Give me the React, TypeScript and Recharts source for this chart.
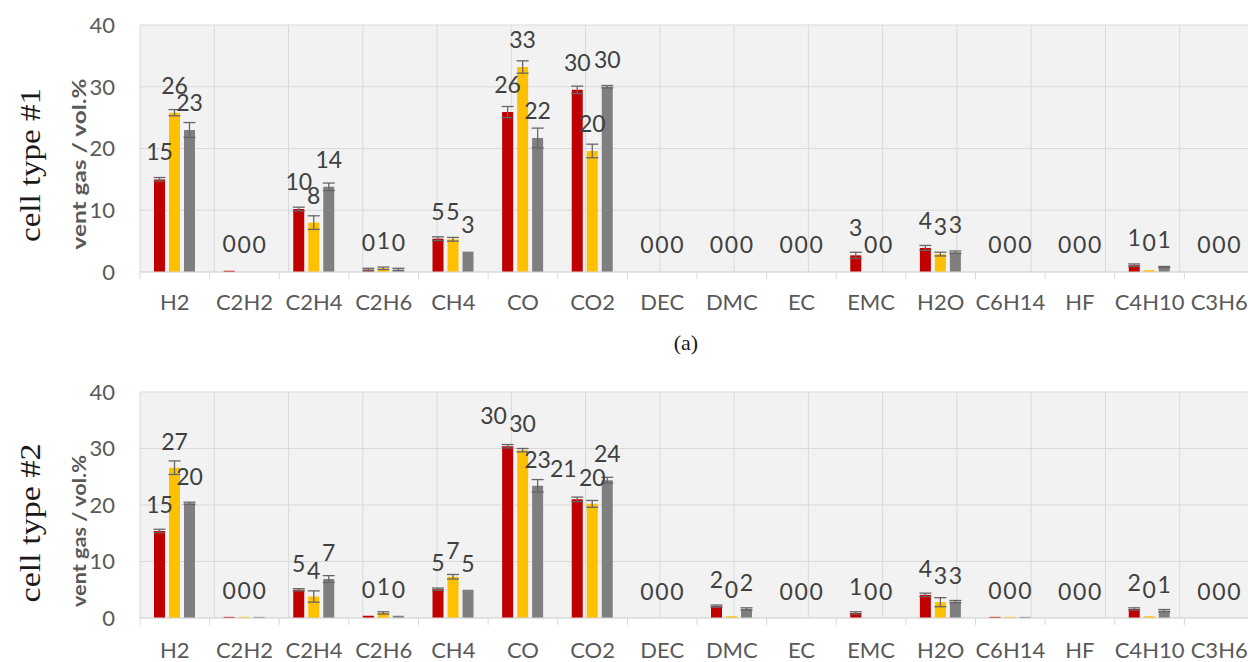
import React from 'react';
import { BarChart, Bar, XAxis, YAxis, CartesianGrid, ErrorBar, LabelList } from 'recharts';

const categories = ['H2', 'C2H2', 'C2H4', 'C2H6', 'CH4', 'CO', 'CO2', 'DEC', 'DMC', 'EC', 'EMC', 'H2O', 'C6H14', 'HF', 'C4H10', 'C3H6'];
const yTicks = [0, 10, 20, 30, 40];
const boundaryTicks = [0, 1, 2, 3, 4, 5, 6, 7, 8, 9, 10, 11, 12, 13, 14, 15, 16];

// cell type #1
const cell1Red = [15.0, 0.2, 10.2, 0.4, 5.4, 25.9, 29.5, 0, 0, 0, 2.7, 3.9, 0, 0, 1.1, 0];
const cell1RedErr = [0.3, 0, 0.3, 0.2, 0.3, 0.9, 0.6, 0, 0, 0, 0.5, 0.4, 0, 0, 0.2, 0];
const cell1Yellow = [25.8, 0, 8.0, 0.6, 5.3, 33.2, 19.6, 0, 0, 0, 0, 2.9, 0, 0, 0.3, 0];
const cell1YellowErr = [0.5, 0, 1.1, 0.2, 0.3, 1.0, 1.1, 0, 0, 0, 0, 0.3, 0, 0, 0, 0];
const cell1Grey = [23.0, 0, 13.8, 0.4, 3.3, 21.7, 30.0, 0, 0, 0, 0, 3.2, 0, 0, 0.8, 0];
const cell1GreyErr = [1.2, 0, 0.6, 0.2, 0, 1.6, 0.2, 0, 0, 0, 0, 0.2, 0, 0, 0.1, 0];

// cell type #2
const cell2Red = [15.4, 0.2, 5.0, 0.4, 5.1, 30.4, 21.0, 0, 2.1, 0, 0.9, 4.1, 0.2, 0, 1.6, 0];
const cell2RedErr = [0.3, 0, 0.2, 0, 0.2, 0.3, 0.4, 0, 0.2, 0, 0.2, 0.3, 0, 0, 0.2, 0];
const cell2Yellow = [26.6, 0.2, 3.8, 0.9, 7.3, 29.7, 20.2, 0, 0.3, 0, 0, 2.8, 0.2, 0, 0.3, 0];
const cell2YellowErr = [1.2, 0, 1.0, 0.2, 0.4, 0.3, 0.6, 0, 0, 0, 0, 0.8, 0, 0, 0, 0];
const cell2Grey = [20.3, 0.2, 6.9, 0.4, 5.0, 23.4, 24.4, 0, 1.6, 0, 0, 2.9, 0.2, 0, 1.3, 0];
const cell2GreyErr = [0.2, 0, 0.6, 0, 0, 1.1, 0.5, 0, 0.2, 0, 0, 0.2, 0, 0, 0.2, 0];

const RED = '#C00000';
const YELLOW = '#FFC000';
const GREY = '#7F7F7F';
const FONT = 'Lato, "Open Sans", sans-serif';
const SERIF = '"Liberation Serif", "DejaVu Serif", serif';

function buildRows(red: number[], redErr: number[], yellow: number[], yellowErr: number[], grey: number[], greyErr: number[]) {
  return categories.map((name, i) => ({
    name,
    red: red[i], redErr: redErr[i],
    yellow: yellow[i], yellowErr: yellowErr[i],
    grey: grey[i], greyErr: greyErr[i],
  }));
}

const rows1 = buildRows(cell1Red, cell1RedErr, cell1Yellow, cell1YellowErr, cell1Grey, cell1GreyErr);
const rows2 = buildRows(cell2Red, cell2RedErr, cell2Yellow, cell2YellowErr, cell2Grey, cell2GreyErr);

// zero-valued bars get a vanishing height so their "0" labels are still placed
const minHeight = (v: any) => (Number(v) === 0 ? 0.01 : 0);

function makeValueLabel(offset: number, series: string) {
  return (props: any) => {
    const { x, y, width, value, index } = props;
    if (value == null) return null;
    let dx = 0;
    let dy = 0;
    if (series === 'red' && typeof index === 'number') {
      const rows = offset === 28 ? rows1 : rows2;
      const row = rows[index];
      // avoid collision between two-digit labels of neighbouring bars at the same height
      if (row && row.red >= 10 && row.yellow >= 10 && Math.abs(row.red - row.yellow) < 2) {
        dx = -14;
        dy = -4;
      }
    }
    return (
      <text
        x={Number(x) + Number(width) / 2 + dx}
        y={Number(y) - offset + dy}
        textAnchor="middle"
        dominantBaseline="central"
        fill="#404040"
        fontSize={23}
        fontFamily={FONT}
      >
        {Math.round(Number(value))}
      </text>
    );
  };
}

function makeCategoryTick(margin: number) {
  return (props: any) => {
    const { x, y, payload, index, visibleTicksCount } = props;
    const half = typeof payload?.offset === 'number' ? payload.offset : 0;
    const axisY = Number(y) - margin;
    return (
      <g>
        {half > 0 && <line x1={x - half} x2={x - half} y1={axisY} y2={axisY + 7} stroke="#d9d9d9" />}
        {half > 0 && index === visibleTicksCount - 1 && (
          <line x1={x + half} x2={x + half} y1={axisY} y2={axisY + 7} stroke="#d9d9d9" />
        )}
        <text x={x} y={y} dy="0.71em" textAnchor="middle" fill="#595959" fontSize={22} fontFamily={FONT}>
          {payload.value}
        </text>
      </g>
    );
  };
}

function AxisTitles(props: any) {
  const { cellLabel, cellY, cellLen, titleY, titleLen } = props;
  return (
    <g>
      <text
        transform={`translate(30, ${cellY}) rotate(-90)`}
        textAnchor="middle"
        dominantBaseline="central"
        fontFamily={SERIF}
        fontSize={29}
        fill="#1a1a1a"
        textLength={cellLen}
        lengthAdjust="spacingAndGlyphs"
      >
        {cellLabel}
      </text>
      <text
        transform={`translate(79, ${titleY}) rotate(-90)`}
        textAnchor="middle"
        dominantBaseline="central"
        fontFamily={FONT}
        fontWeight="bold"
        fontSize={18}
        fill="#595959"
        textLength={titleLen}
        lengthAdjust="spacingAndGlyphs"
      >
        vent gas / vol.%
      </text>
    </g>
  );
}

function Panel(props: any) {
  const { rows, top, height, marginTop, marginBottom, xHeight, tickMargin, labelOffset, titles } = props;
  const errProps = { width: 6, stroke: '#666666', strokeWidth: 1.3 };
  return (
    <div style={{ position: 'absolute', left: 0, top }}>
      <BarChart
        width={1254}
        height={height}
        data={rows}
        margin={{ top: marginTop, right: 0, bottom: marginBottom, left: 0 }}
        barGap={4}
        barCategoryGap={0}
      >
        <CartesianGrid xAxisId="b" stroke="#d9d9d9" fill="#f2f2f2" fillOpacity={1} />
        <XAxis
          xAxisId="b"
          type="number"
          domain={[0, 16]}
          ticks={boundaryTicks}
          orientation="top"
          hide
          height={0}
          allowDataOverflow
        />
        <XAxis
          xAxisId="c"
          dataKey="name"
          interval={0}
          height={xHeight}
          tickLine={false}
          tickSize={0}
          tickMargin={tickMargin}
          axisLine={{ stroke: '#d9d9d9' }}
          tick={makeCategoryTick(tickMargin)}
        />
        <YAxis
          domain={[0, 40]}
          ticks={yTicks}
          width={140}
          axisLine={false}
          tickLine={false}
          tickSize={0}
          tickMargin={25}
          tick={{ fill: '#595959', fontSize: 22, fontFamily: FONT }}
          label={<AxisTitles {...titles} />}
        />
        <Bar xAxisId="c" dataKey="red" fill={RED} barSize={11} minPointSize={minHeight} isAnimationActive={false}>
          <ErrorBar dataKey="redErr" {...errProps} />
          <LabelList dataKey="red" content={makeValueLabel(labelOffset, 'red')} />
        </Bar>
        <Bar xAxisId="c" dataKey="yellow" fill={YELLOW} barSize={11} minPointSize={minHeight} isAnimationActive={false}>
          <ErrorBar dataKey="yellowErr" {...errProps} />
          <LabelList dataKey="yellow" content={makeValueLabel(labelOffset, 'yellow')} />
        </Bar>
        <Bar xAxisId="c" dataKey="grey" fill={GREY} barSize={11} minPointSize={minHeight} isAnimationActive={false}>
          <ErrorBar dataKey="greyErr" {...errProps} />
          <LabelList dataKey="grey" content={makeValueLabel(labelOffset, 'grey')} />
        </Bar>
      </BarChart>
    </div>
  );
}

export default function App() {
  return (
    <div
      style={{
        position: 'absolute',
        left: 0,
        top: 0,
        width: 1248,
        height: 662,
        overflow: 'hidden',
        background: '#ffffff',
      }}
    >
      <Panel
        rows={rows1}
        top={0}
        height={340}
        marginTop={25}
        marginBottom={23}
        xHeight={45}
        tickMargin={22}
        labelOffset={28}
        titles={{ cellLabel: 'cell type #1', cellY: 165, cellLen: 154, titleY: 164, titleLen: 171 }}
      />
      <div
        style={{
          position: 'absolute',
          left: 646,
          top: 332,
          width: 80,
          textAlign: 'center',
          fontFamily: SERIF,
          fontSize: 22,
          lineHeight: '22px',
          color: '#1a1a1a',
        }}
      >
        (a)
      </div>
      <Panel
        rows={rows2}
        top={360}
        height={302}
        marginTop={32}
        marginBottom={4}
        xHeight={40}
        tickMargin={24}
        labelOffset={27}
        titles={{ cellLabel: 'cell type #2', cellY: 163, cellLen: 159, titleY: 171, titleLen: 152 }}
      />
    </div>
  );
}
